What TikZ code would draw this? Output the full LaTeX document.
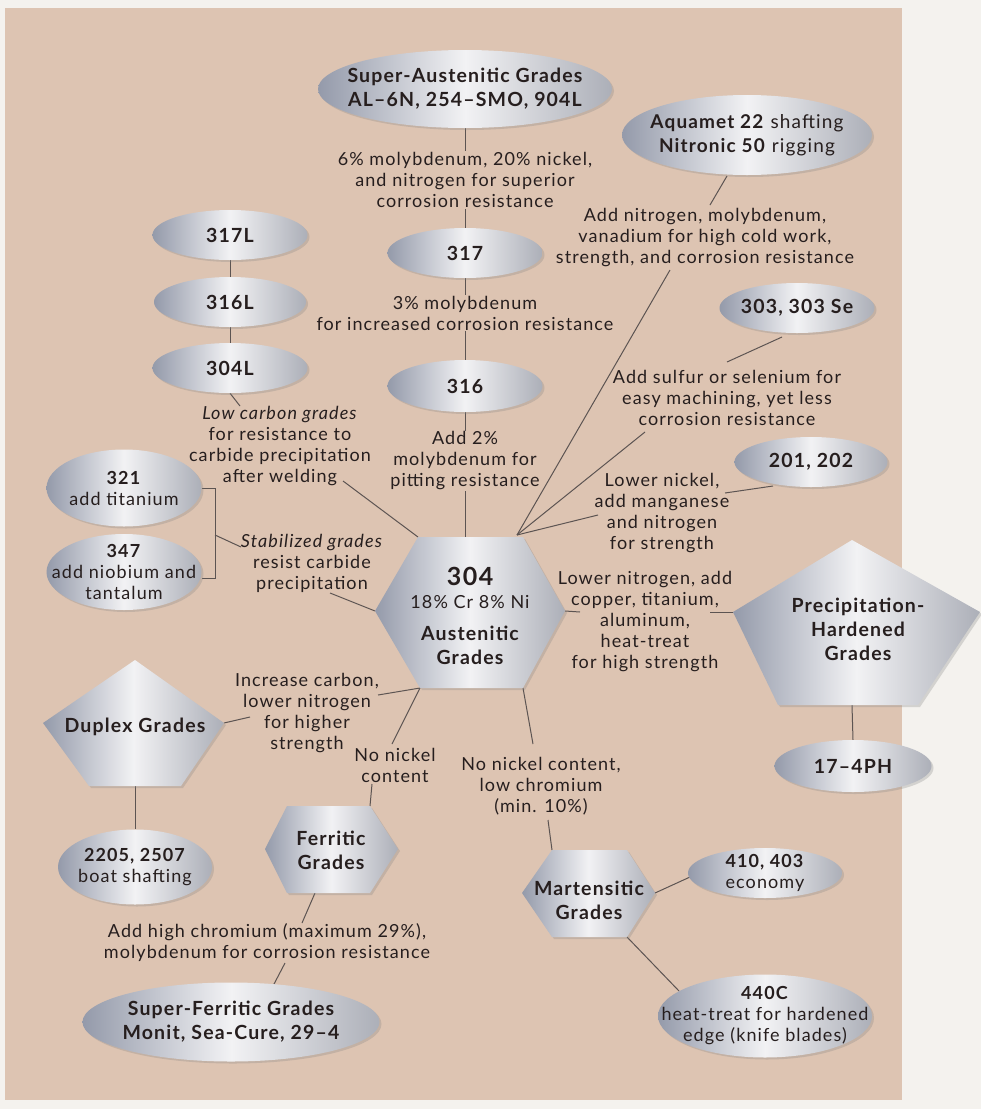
\documentclass[tikz,border=0pt]{standalone}
\usepackage{fontspec}
\setmainfont{Lato}[LetterSpace=6]
\usetikzlibrary{shapes.geometric,shadows,calc}
\definecolor{outerc}{RGB}{244,242,238}
\definecolor{panelc}{RGB}{221,196,178}
\definecolor{ink}{RGB}{38,30,30}
\definecolor{linec}{RGB}{92,84,82}
\definecolor{silvL}{RGB}{148,154,170}
\definecolor{silvM}{RGB}{242,242,244}
\definecolor{silvR}{RGB}{172,175,184}
\pgfdeclarelayer{back}
\pgfdeclarelayer{bg}
\pgfsetlayers{back,bg,main}
\newcommand\lblfont{\fontsize{18}{21}\selectfont}
\newcommand\etfont{\fontsize{18}{21}\selectfont}
\newcommand\bdfont{\fontsize{19.5}{24}\selectfont\bfseries}
\newcommand\ellnode[5]{%
  \node[silverell, minimum width=#3pt, minimum height=#4pt] (#1) at #2 {};
  \node[etxt] (#1t) at (#1) {#5};}
\newcommand\bellnode[5]{%
  \node[silverell, minimum width=#3pt, minimum height=#4pt] (#1) at #2 {};
  \node[btxt] (#1t) at (#1) {#5};}
\tikzset{
  conn/.style={draw=linec, line width=1pt},
  silver/.style={left color=silvL, right color=silvR, middle color=silvM,
    drop shadow={opacity=0.28, shadow xshift=2pt, shadow yshift=-2pt}},
  silverell/.style={ellipse, silver, inner sep=0pt},
  lbl/.style={align=center, font=\lblfont, text=ink, inner sep=1pt},
  etxt/.style={align=center, font=\etfont, text=ink, inner sep=0pt},
  btxt/.style={align=center, font=\bdfont, text=ink, inner sep=0pt},
}
\begin{document}
\begin{tikzpicture}[x=1pt,y=-1pt]
\useasboundingbox (0,0) rectangle (981,1109);
\begin{pgfonlayer}{back}
\fill[outerc] (0,0) rectangle (981,1109);
\fill[panelc] (5,8) rectangle (902,1100);
\end{pgfonlayer}

% ---------- ellipses ----------
\bellnode{supA}{(465,89)}{294}{78}{Super-Austenitic Grades\\AL–6N, 254–SMO, 904L}
\node[silverell, minimum width=250pt, minimum height=80pt] (aqua) at (747,135) {};
\node[align=center, font=\fontsize{19}{24}\selectfont, text=ink, inner sep=0pt] (aquat) at (aqua) {\textbf{Aquamet 22} shafting\\\textbf{Nitronic 50} rigging};
\bellnode{g317L}{(230,235)}{155}{50}{317L}
\bellnode{g316L}{(230,302)}{152}{50}{316L}
\bellnode{g304L}{(230,368)}{155}{50}{304L}
\bellnode{g317}{(465,253)}{155}{50}{317}
\bellnode{g316}{(465,386)}{155}{52}{316}
\bellnode{g303}{(797,308)}{155}{50}{303, 303 Se}
\bellnode{g201}{(811,462)}{153}{50}{201, 202}
\ellnode{g321}{(124,488)}{155}{77}{\textbf{321}\\add titanium}
\ellnode{g347}{(124,572)}{155}{76}{\textbf{347}\\add niobium and\\tantalum}
\bellnode{g174}{(853,766)}{157}{52}{17–4PH}
\ellnode{g2205}{(135,867)}{154}{75}{\textbf{2205, 2507}\\boat shafting}
\bellnode{supF}{(231,1022)}{297}{79}{Super-Ferritic Grades\\Monit, Sea-Cure, 29–4}
\ellnode{g410}{(765,873)}{154}{50}{\textbf{410, 403}\\economy}
\ellnode{g440}{(765,1016)}{214}{83}{\textbf{440C}\\heat-treat for hardened\\edge (knife blades)}

% ---------- polygons ----------
\coordinate (hTL) at (418,537); \coordinate (hTR) at (523,537);
\coordinate (hR) at (565,611); \coordinate (hBR) at (523,688);
\coordinate (hBL) at (420,688); \coordinate (hL) at (375,611);
\shade[silver] (hTL) -- (hTR) -- (hR) -- (hBR) -- (hBL) -- (hL) -- cycle;
\node[font=\fontsize{25}{28}\selectfont\bfseries, text=ink, inner sep=0pt] (n304) at (470,576) {304};
\node[font=\lblfont, text=ink, inner sep=0pt] (n304b) at (470,602) {18\% Cr 8\% Ni};
\node[btxt] (n304c) at (470,645) {Austenitic\\Grades};

\coordinate (phT) at (852,540); \coordinate (phR) at (980,612);
\coordinate (phBR) at (918,705); \coordinate (phBL) at (778,705);
\coordinate (phL) at (733,612);
\shade[silver] (phT) -- (phR) -- (phBR) -- (phBL) -- (phL) -- cycle;
\node[btxt] (pht) at (858,629) {Precipitation-\\Hardened\\Grades};

\coordinate (duT) at (135,660); \coordinate (duR) at (224,723);
\coordinate (duBR) at (181,786); \coordinate (duBL) at (89,786);
\coordinate (duL) at (43,723);
\shade[silver] (duT) -- (duR) -- (duBR) -- (duBL) -- (duL) -- cycle;
\node[btxt] (dut) at (135,727) {Duplex Grades};

\coordinate (feTL) at (287,806); \coordinate (feTR) at (370,806);
\coordinate (feR) at (398,849); \coordinate (feBR) at (370,893);
\coordinate (feBL) at (287,893); \coordinate (feL) at (265,849);
\shade[silver] (feTL) -- (feTR) -- (feR) -- (feBR) -- (feBL) -- (feL) -- cycle;
\node[btxt] (fet) at (331,850) {Ferritic\\Grades};

\coordinate (maTL) at (552,850); \coordinate (maTR) at (627,850);
\coordinate (maR) at (655,893); \coordinate (maBR) at (627,937);
\coordinate (maBL) at (552,937); \coordinate (maL) at (522,893);
\shade[silver] (maTL) -- (maTR) -- (maR) -- (maBR) -- (maBL) -- (maL) -- cycle;
\node[btxt] (mat) at (589,900) {Martensitic\\Grades};

% ---------- labels ----------
\node[lbl] (l6) at (465,180) {6\% molybdenum, 20\% nickel,\\and nitrogen for superior\\corrosion resistance};
\node[lbl] (l3) at (465,313) {3\% molybdenum\\for increased corrosion resistance};
\node[lbl] (l2) at (465,461) {Add 2\%\\molybdenum for\\pitting resistance};
\node[lbl] (lLow) at (280,446) {\textit{Low carbon grades}\\for resistance to\\carbide precipitation\\after welding};
\node[lbl] (lStab) at (312,563) {\textit{Stabilized grades}\\resist carbide\\precipitation};
\node[lbl] (lInc) at (307,713) {Increase carbon,\\lower nitrogen\\for higher\\strength};
\node[lbl] (lNoNi) at (395,765) {No nickel\\content};
\node[lbl] (lNoNi2) at (541,786) {No nickel content,\\low chromium\\(min. 10\%)};
\node[lbl] (lHiCr) at (267,943) {Add high chromium (maximum 29\%),\\molybdenum for corrosion resistance};
\node[lbl] (lN) at (705,238) {Add nitrogen, molybdenum,\\vanadium for high cold work,\\strength, and corrosion resistance};
\node[lbl] (lS) at (727,398) {Add sulfur or selenium for\\easy machining, yet less\\corrosion resistance};
\node[lbl] (lLN) at (662,513) {Lower nickel,\\add manganese\\and nitrogen\\for strength};
\node[lbl] (lLNi) at (645,622) {Lower nitrogen, add\\copper, titanium,\\aluminum,\\heat-treat\\for high strength};

% ---------- connector end points ----------
\coordinate (h304top) at (465,537);
\coordinate (hub) at (517,535);
\coordinate (lLowTop) at (240,406);
\coordinate (lLowEnd) at (343,481);
\coordinate (b1) at (215,488);
\coordinate (b2) at (215,578);
\coordinate (bm) at (215,535);
\coordinate (lStabIn) at (241,547);
\coordinate (lStabEnd) at (330,593);
\coordinate (lIncR) at (378,695);
\coordinate (lIncL) at (250,717);
\coordinate (lNoNiT) at (392,744);
\coordinate (lNoNiB) at (372,784);
\coordinate (lNoNi2T) at (533,744);
\coordinate (lNoNi2B) at (548,820);
\coordinate (lHiCrT) at (302,923);
\coordinate (lHiCrB) at (285,963);
\coordinate (supFtop) at (273,986);
\coordinate (g410in) at (690,877);
\coordinate (g440in) at (679,991);
\coordinate (lLNiL) at (580,612);
\coordinate (lLNiR) at (710,612);
\coordinate (aquaB) at (727,176);
\coordinate (lNTop) at (710,205);
\coordinate (lNBot) at (670,270);
\coordinate (g303B) at (782,337);
\coordinate (lSTop) at (727,362);
\coordinate (lSBot) at (645,432);
\coordinate (g201B) at (773,486);
\coordinate (lLNR) at (725,493);
\coordinate (lLNL) at (598,515);
\coordinate (feBm) at (315,893);
\coordinate (duBm) at (135,786);
\coordinate (phBm) at (852,705);

\begin{pgfonlayer}{bg}
\draw[conn] (supA.south) -- (l6.north);
\draw[conn] (l6.south) -- (g317.north);
\draw[conn] (g317.south) -- (l3.north);
\draw[conn] (l3.south) -- (g316.north);
\draw[conn] (g316.south) -- (l2.north);
\draw[conn] (l2.south) -- (h304top);
\draw[conn] (g317L.south) -- (g316L.north);
\draw[conn] (g316L.south) -- (g304L.north);
\draw[conn] (g304L.south) -- (lLowTop);
\draw[conn] (lLowEnd) -- (hTL);
\draw[conn] (g321.east) -- (b1) -- (b2) -- (b2 -| g347.east);
\draw[conn] (bm) -- (lStabIn);
\draw[conn] (lStabEnd) -- (hL);
\draw[conn] (hBL) -- (lIncR);
\draw[conn] (duR) -- (lIncL);
\draw[conn] (hBL) -- (lNoNiT);
\draw[conn] (lNoNiB) -- (feTR);
\draw[conn] (hBR) -- (lNoNi2T);
\draw[conn] (lNoNi2B) -- (maTL);
\draw[conn] (feBm) -- (lHiCrT);
\draw[conn] (lHiCrB) -- (supFtop);
\draw[conn] (duBm) -- (g2205.north);
\draw[conn] (maR) -- (g410in);
\draw[conn] (maBR) -- (g440in);
\draw[conn] (phBm) -- (g174.north);
\draw[conn] (hR) -- (lLNiL);
\draw[conn] (lLNiR) -- (phL);
\draw[conn] (aquaB) -- (lNTop);
\draw[conn] (lNBot) -- (hub);
\draw[conn] (g303B) -- (lSTop);
\draw[conn] (lSBot) -- (hub);
\draw[conn] (g201B) -- (lLNR);
\draw[conn] (lLNL) -- (hub);
\end{pgfonlayer}
\end{tikzpicture}
\end{document}
